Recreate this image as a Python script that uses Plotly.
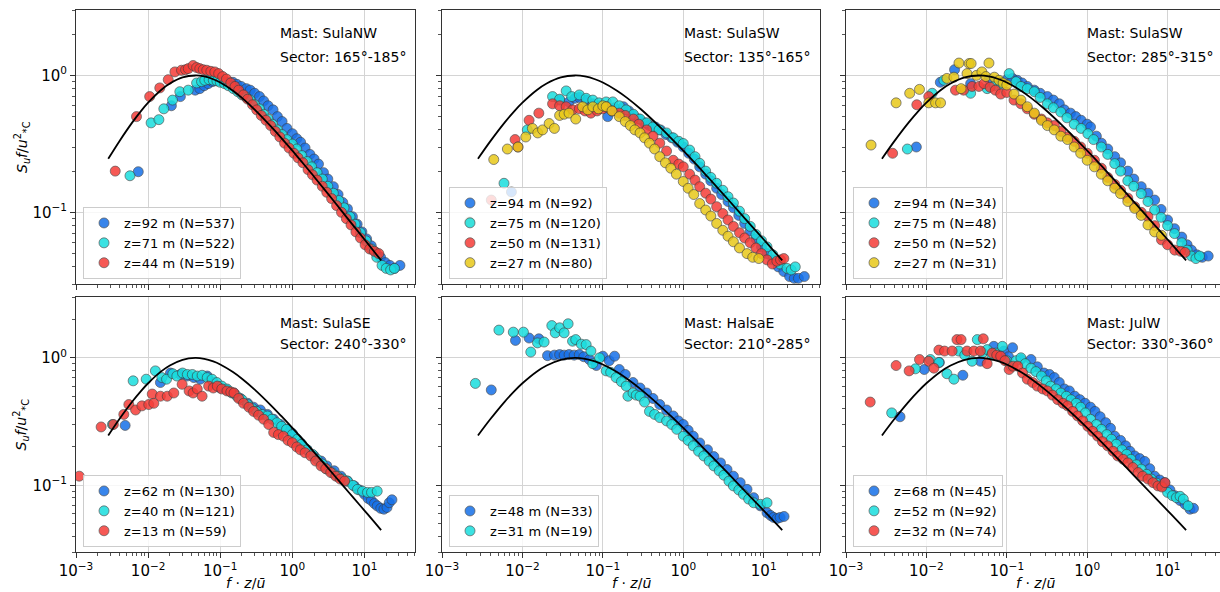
import plotly.graph_objects as go

# ---------------- model curve ----------------
model_x = [0.0028, 0.004, 0.006, 0.008, 0.01, 0.015, 0.02, 0.03, 0.045, 0.06, 0.08, 0.1, 0.15, 0.2,
           0.3, 0.5, 0.7, 1.0, 1.5, 2.0, 3.0, 5.0, 7.0, 10.0, 14.0, 17.0]
model_y = [0.246, 0.331, 0.452, 0.551, 0.632, 0.779, 0.871, 0.965, 0.998, 0.982, 0.937, 0.887, 0.773, 0.685,
           0.563, 0.426, 0.350, 0.282, 0.219, 0.182, 0.140, 0.100, 0.080, 0.0634, 0.0507, 0.0446]

# ---------------- Panel 1: SulaNW ----------------
nw92_x = [0.0073, 0.021, 0.028, 0.045, 0.052, 0.060, 0.068, 0.078, 0.089, 0.10, 0.115, 0.13, 0.15, 0.17, 0.195,
          0.23, 0.26, 0.30, 0.35, 0.40, 0.46, 0.54, 0.62, 0.72, 0.84, 1.0, 1.15, 1.3, 1.5, 1.75, 2.0, 2.3, 2.7,
          3.1, 3.7, 4.3, 5.0, 5.8, 6.8, 7.9, 9.2, 10.7, 12.4, 14.4, 16.7, 19.4, 22.5, 26, 31]
nw92_y = [0.198, 0.60, 0.70, 0.78, 0.80, 0.84, 0.87, 0.90, 0.92, 0.91, 0.90, 0.89, 0.89, 0.86, 0.83,
          0.80, 0.78, 0.74, 0.70, 0.65, 0.60, 0.56, 0.50, 0.46, 0.41, 0.375, 0.345, 0.325, 0.295, 0.265, 0.245,
          0.225, 0.195, 0.175, 0.154, 0.135, 0.118, 0.106, 0.093, 0.082, 0.072, 0.064, 0.057, 0.051, 0.047,
          0.043, 0.041, 0.039, 0.041]
nw71_x = [0.0056, 0.011, 0.0141, 0.0165, 0.0218, 0.0275, 0.036, 0.047, 0.055, 0.061, 0.070, 0.080, 0.09, 0.10,
          0.115, 0.13, 0.152, 0.175, 0.2, 0.23, 0.26, 0.30, 0.35, 0.40, 0.46, 0.53, 0.62, 0.72, 0.84, 1.0, 1.15,
          1.35, 1.6, 1.85, 2.2, 2.6, 3.1, 3.7, 4.4, 5.2, 6.3, 7.4, 8.8, 10.5, 12.5, 14.8, 17.5, 20, 23, 26]
nw71_y = [0.185, 0.45, 0.475, 0.57, 0.66, 0.76, 0.78, 0.88, 0.90, 0.92, 0.93, 0.92, 0.91, 0.89,
          0.87, 0.84, 0.80, 0.76, 0.72, 0.69, 0.66, 0.61, 0.57, 0.52, 0.48, 0.44, 0.40, 0.37, 0.34, 0.315, 0.29,
          0.26, 0.235, 0.215, 0.195, 0.175, 0.155, 0.138, 0.122, 0.108, 0.093, 0.082, 0.071, 0.062, 0.054,
          0.047, 0.041, 0.039, 0.038, 0.039]
nw44_x = [0.0035, 0.0069, 0.0105, 0.0145, 0.019, 0.0235, 0.029, 0.033, 0.036, 0.042, 0.047, 0.052, 0.058, 0.065,
          0.074, 0.084, 0.095, 0.108, 0.122, 0.14, 0.16, 0.18, 0.21, 0.24, 0.28, 0.32, 0.37, 0.43, 0.5, 0.58,
          0.67, 0.78, 0.9, 1.05, 1.2, 1.4, 1.65, 1.9, 2.2, 2.6, 3.0, 3.5, 4.1, 4.8, 5.6, 6.5, 7.6, 8.8, 10.2,
          11.8, 13.7, 15.8]
nw44_y = [0.20, 0.50, 0.70, 0.81, 0.93, 1.06, 1.09, 1.10, 1.12, 1.18, 1.14, 1.12, 1.10, 1.09,
          1.07, 1.06, 1.03, 0.98, 0.94, 0.88, 0.83, 0.78, 0.72, 0.67, 0.61, 0.56, 0.51, 0.47, 0.43, 0.39,
          0.355, 0.32, 0.295, 0.27, 0.25, 0.23, 0.205, 0.188, 0.172, 0.155, 0.14, 0.126, 0.112, 0.100, 0.090,
          0.081, 0.072, 0.065, 0.058, 0.054, 0.052, 0.050]

# ---------------- Panel 2: SulaSW 135-165 ----------------
sa94_x = [0.0073, 0.029, 0.038, 0.045, 0.051, 0.062, 0.075, 0.09, 0.115, 0.14, 0.18, 0.21, 0.24, 0.28, 0.33,
          0.38, 0.45, 0.52, 0.61, 0.72, 0.85, 1.0, 1.17, 1.37, 1.6, 1.9, 2.2, 2.6, 3.0, 3.6, 4.2, 4.9, 5.8, 6.8,
          8.0, 9.4, 11, 13, 15.2, 17.8, 21, 24, 27, 32]
sa94_y = [0.141, 0.66, 0.64, 0.68, 0.69, 0.66, 0.62, 0.60, 0.50, 0.58, 0.59, 0.55, 0.51, 0.48, 0.45,
          0.43, 0.42, 0.40, 0.37, 0.35, 0.325, 0.30, 0.27, 0.245, 0.215, 0.19, 0.17, 0.15, 0.135, 0.12, 0.108,
          0.095, 0.083, 0.073, 0.064, 0.056, 0.050, 0.045, 0.040, 0.037, 0.034, 0.033, 0.033, 0.034]
sa75_x = [0.0059, 0.0115, 0.0237, 0.029, 0.035, 0.041, 0.051, 0.062, 0.075, 0.09, 0.11, 0.133, 0.16, 0.195,
          0.24, 0.29, 0.35, 0.42, 0.5, 0.62, 0.75, 0.88, 1.0, 1.2, 1.4, 1.6, 1.9, 2.2, 2.6, 3.1, 3.6, 4.2, 5.0,
          5.8, 6.8, 8.0, 9.4, 11, 13, 16, 19.5, 22, 24.7]
sa75_y = [0.163, 0.40, 0.70, 0.67, 0.77, 0.70, 0.72, 0.68, 0.66, 0.63, 0.64, 0.64, 0.60, 0.56,
          0.52, 0.48, 0.45, 0.42, 0.40, 0.38, 0.35, 0.33, 0.318, 0.285, 0.255, 0.228, 0.20, 0.18, 0.163, 0.145,
          0.13, 0.117, 0.102, 0.09, 0.079, 0.069, 0.062, 0.056, 0.049, 0.042, 0.039, 0.038, 0.040]
sa50_x = [0.0041, 0.0081, 0.0088, 0.0121, 0.016, 0.0237, 0.029, 0.035, 0.042, 0.051, 0.06, 0.071, 0.085, 0.10,
          0.11, 0.13, 0.16, 0.19, 0.24, 0.28, 0.35, 0.42, 0.51, 0.62, 0.75, 0.88, 1.0, 1.2, 1.4, 1.6, 1.9, 2.2,
          2.6, 3.1, 3.6, 4.2, 5.0, 5.8, 6.8, 8.0, 9.4, 11, 12.8, 14.6, 16.2, 17.8]
sa50_y = [0.123, 0.34, 0.30, 0.47, 0.53, 0.62, 0.60, 0.59, 0.56, 0.57, 0.55, 0.53, 0.55, 0.57,
          0.59, 0.55, 0.53, 0.51, 0.48, 0.44, 0.40, 0.36, 0.32, 0.28, 0.24, 0.225, 0.215, 0.19, 0.172, 0.154,
          0.138, 0.125, 0.11, 0.098, 0.088, 0.079, 0.071, 0.065, 0.060, 0.055, 0.050, 0.045, 0.042, 0.044,
          0.045, 0.046]
sa27_x = [0.0022, 0.0044, 0.0065, 0.0088, 0.011, 0.0133, 0.0155, 0.0178, 0.0215, 0.025, 0.029, 0.033, 0.038,
          0.046, 0.056, 0.065, 0.075, 0.088, 0.10, 0.11, 0.13, 0.16, 0.19, 0.22, 0.25, 0.29, 0.33, 0.38, 0.44,
          0.51, 0.6, 0.7, 0.82, 1.0, 1.15, 1.35, 1.6, 1.9, 2.2, 2.6, 3.1, 3.6, 4.2, 5.0, 6.2, 7.3, 8.7]
sa27_y = [0.085, 0.243, 0.29, 0.30, 0.355, 0.41, 0.38, 0.40, 0.445, 0.41, 0.51, 0.52, 0.53,
          0.48, 0.59, 0.56, 0.59, 0.57, 0.60, 0.59, 0.55, 0.50, 0.46, 0.43, 0.40, 0.38, 0.35, 0.32, 0.29,
          0.255, 0.23, 0.21, 0.19, 0.168, 0.15, 0.135, 0.116, 0.104, 0.094, 0.083, 0.074, 0.067, 0.061, 0.055,
          0.050, 0.047, 0.046]

# ---------------- Panel 3: SulaSW 285-315 ----------------
sb94_x = [0.0075, 0.0149, 0.0224, 0.0355, 0.06, 0.084, 0.1, 0.118, 0.135, 0.155, 0.18, 0.22, 0.26, 0.32, 0.38,
          0.45, 0.52, 0.62, 0.72, 0.84, 1.0, 1.1, 1.3, 1.5, 1.8, 2.2, 2.6, 3.2, 3.8, 4.7, 5.7, 6.9, 8.3, 10,
          12.2, 15, 17.5, 19.8, 23, 27, 32]
sb94_y = [0.30, 0.89, 1.10, 0.87, 0.94, 0.89, 0.93, 0.95, 0.92, 0.88, 0.83, 0.78, 0.74, 0.70, 0.66,
          0.62, 0.56, 0.53, 0.50, 0.47, 0.44, 0.42, 0.36, 0.32, 0.29, 0.255, 0.23, 0.20, 0.175, 0.154, 0.138,
          0.123, 0.105, 0.088, 0.076, 0.066, 0.058, 0.053, 0.049, 0.047, 0.048]
sb75_x = [0.0058, 0.0118, 0.0165, 0.0355, 0.057, 0.07, 0.084, 0.107, 0.13, 0.15, 0.18, 0.22, 0.26, 0.32, 0.38,
          0.47, 0.56, 0.69, 0.84, 1.02, 1.2, 1.5, 1.8, 2.2, 2.6, 3.2, 3.8, 4.7, 5.7, 6.9, 8.3, 10, 12.2, 15,
          17.5, 19.8, 22.5, 25]
sb75_y = [0.29, 0.74, 0.92, 0.74, 0.80, 0.84, 0.87, 1.03, 0.90, 0.83, 0.80, 0.76, 0.69, 0.62, 0.58,
          0.54, 0.49, 0.44, 0.41, 0.375, 0.34, 0.30, 0.265, 0.227, 0.20, 0.17, 0.155, 0.137, 0.12, 0.104,
          0.092, 0.08, 0.07, 0.060, 0.053, 0.048, 0.046, 0.048]
sb50_x = [0.0038, 0.0076, 0.0107, 0.023, 0.029, 0.037, 0.045, 0.052, 0.062, 0.072, 0.084, 0.10, 0.123, 0.15,
          0.18, 0.22, 0.27, 0.32, 0.39, 0.47, 0.57, 0.69, 0.83, 1.0, 1.23, 1.5, 1.8, 2.2, 2.6, 3.2, 3.9, 4.7,
          5.7, 6.9, 8.4, 10, 12.3, 14.5, 16.5]
sb50_y = [0.27, 0.61, 0.70, 0.78, 0.78, 0.83, 0.83, 0.87, 0.82, 0.78, 0.73, 0.75, 0.66, 0.62,
          0.57, 0.52, 0.48, 0.45, 0.43, 0.39, 0.355, 0.33, 0.30, 0.27, 0.24, 0.21, 0.18, 0.16, 0.145, 0.127,
          0.11, 0.10, 0.093, 0.080, 0.063, 0.058, 0.053, 0.052, 0.051]
sb27_x = [0.00205, 0.0042, 0.0062, 0.0082, 0.0107, 0.013, 0.015, 0.018, 0.022, 0.0254, 0.027, 0.032, 0.034,
          0.036, 0.042, 0.049, 0.055, 0.06, 0.07, 0.08, 0.09, 0.10, 0.123, 0.15, 0.18, 0.22, 0.27, 0.32, 0.39,
          0.47, 0.57, 0.69, 0.83, 1.0, 1.23, 1.5, 1.8, 2.2, 2.6, 3.2, 3.9, 4.7, 5.7, 6.9, 8.4]
sb27_y = [0.31, 0.63, 0.74, 0.79, 0.63, 0.63, 0.63, 0.95, 0.97, 1.23, 0.80, 1.03, 1.22,
          1.22, 1.0, 1.06, 0.98, 1.23, 0.97, 0.92, 0.88, 0.85, 0.73, 0.66, 0.59, 0.53, 0.47, 0.43, 0.40,
          0.36, 0.34, 0.30, 0.27, 0.24, 0.215, 0.19, 0.17, 0.15, 0.137, 0.12, 0.107, 0.095, 0.081, 0.072, 0.068]

# ---------------- Panel 4: SulaSE ----------------
se62_x = [0.0048, 0.0148, 0.0204, 0.028, 0.035, 0.043, 0.053, 0.066, 0.08, 0.10, 0.125, 0.155, 0.19, 0.24,
          0.29, 0.36, 0.45, 0.55, 0.68, 0.83, 1.0, 1.29, 1.6, 2.0, 2.5, 3.0, 3.8, 4.7, 5.8, 7.2, 8.5, 10, 11.2,
          12.4, 13.7, 15, 16.8, 18.6, 20.5, 22, 24]
se62_y = [0.295, 0.64, 0.76, 0.74, 0.72, 0.70, 0.68, 0.72, 0.64, 0.58, 0.56, 0.53, 0.48, 0.44,
          0.41, 0.39, 0.36, 0.33, 0.30, 0.275, 0.255, 0.216, 0.19, 0.17, 0.155, 0.142, 0.13, 0.118, 0.108,
          0.099, 0.092, 0.085, 0.079, 0.076, 0.072, 0.069, 0.066, 0.065, 0.067, 0.073, 0.077]
se40_x = [0.0032, 0.0062, 0.0094, 0.0126, 0.0155, 0.018, 0.022, 0.025, 0.03, 0.035, 0.041, 0.048, 0.056, 0.066,
          0.077, 0.09, 0.105, 0.124, 0.145, 0.17, 0.2, 0.24, 0.28, 0.32, 0.38, 0.45, 0.52, 0.61, 0.71, 0.83,
          1.0, 1.17, 1.35, 1.6, 1.9, 2.2, 2.6, 3.0, 3.6, 4.2, 5.0, 5.8, 6.9, 8.0, 9.4, 11, 12.5, 15]
se40_y = [0.30, 0.66, 0.68, 0.79, 0.70, 0.68, 0.75, 0.72, 0.76, 0.74, 0.74, 0.72, 0.73, 0.70,
          0.68, 0.64, 0.60, 0.57, 0.53, 0.50, 0.47, 0.43, 0.40, 0.38, 0.36, 0.35, 0.33, 0.31, 0.29, 0.275,
          0.25, 0.23, 0.21, 0.19, 0.175, 0.16, 0.147, 0.134, 0.125, 0.118, 0.112, 0.108, 0.1, 0.093, 0.09,
          0.088, 0.088, 0.090]
se13_x = [0.00111, 0.00223, 0.0033, 0.0046, 0.0054, 0.0067, 0.0082, 0.0102, 0.0114, 0.012, 0.0148, 0.0184,
          0.0227, 0.0296, 0.037, 0.042, 0.048, 0.056, 0.069, 0.08, 0.091, 0.105, 0.124, 0.14, 0.155, 0.18,
          0.21, 0.25, 0.29, 0.34, 0.40, 0.47, 0.55, 0.64, 0.75, 0.87, 1.0, 1.15, 1.29, 1.5, 1.8, 2.1, 2.5, 2.9,
          3.4, 4.0, 4.6, 5.3]
se13_y = [0.118, 0.287, 0.30, 0.36, 0.43, 0.39, 0.42, 0.43, 0.52, 0.44, 0.50, 0.50,
          0.53, 0.62, 0.55, 0.53, 0.57, 0.50, 0.60, 0.58, 0.60, 0.57, 0.55, 0.54, 0.53, 0.48,
          0.44, 0.41, 0.38, 0.355, 0.33, 0.30, 0.26, 0.25, 0.243, 0.225, 0.216, 0.20, 0.19, 0.18, 0.17, 0.155,
          0.142, 0.135, 0.126, 0.118, 0.112, 0.108]

# ---------------- Panel 5: HalsaE ----------------
he48_x = [0.0041, 0.0082, 0.0121, 0.016, 0.0205, 0.025, 0.029, 0.033, 0.038, 0.044, 0.051, 0.058, 0.068, 0.083,
          0.1, 0.12, 0.14, 0.16, 0.19, 0.237, 0.29, 0.35, 0.42, 0.51, 0.62, 0.75, 0.87, 1.0, 1.15, 1.33, 1.6,
          2.0, 2.4, 2.9, 3.5, 4.2, 5.1, 6.2, 7.5, 9.1, 11, 12.2, 13.3, 14.7, 16, 17.9]
he48_y = [0.56, 1.37, 1.43, 1.41, 1.04, 1.05, 1.06, 1.05, 1.06, 1.05, 1.06, 1.02, 0.97, 0.87,
          1.03, 0.95, 1.03, 0.81, 0.74, 0.64, 0.58, 0.53, 0.48, 0.43, 0.39, 0.35, 0.32, 0.30, 0.27, 0.243,
          0.215, 0.19, 0.168, 0.15, 0.133, 0.118, 0.105, 0.093, 0.08, 0.069, 0.061, 0.058, 0.056, 0.055,
          0.056, 0.057]
he31_x = [0.0026, 0.0051, 0.0077, 0.0103, 0.0127, 0.0154, 0.0186, 0.0232, 0.0256, 0.029, 0.033, 0.037, 0.042,
          0.046, 0.054, 0.062, 0.071, 0.075, 0.091, 0.11, 0.125, 0.146, 0.17, 0.195, 0.205, 0.237, 0.26, 0.29,
          0.33, 0.38, 0.44, 0.51, 0.62, 0.72, 0.83, 1.0, 1.15, 1.33, 1.55, 1.8, 2.1, 2.4, 2.8, 3.2, 3.7, 4.2,
          4.9, 5.6, 6.5, 7.5, 9.1, 11]
he31_y = [0.63, 1.65, 1.59, 1.59, 1.11, 1.31, 1.33, 1.79, 1.57, 1.72, 1.57, 1.85, 1.35,
          1.39, 1.28, 1.27, 1.13, 0.90, 1.0, 0.79, 0.77, 0.70, 0.65, 0.60, 0.50, 0.53, 0.51, 0.50,
          0.45, 0.38, 0.36, 0.34, 0.32, 0.30, 0.275, 0.243, 0.225, 0.204, 0.185, 0.17, 0.155, 0.142, 0.13,
          0.12, 0.108, 0.099, 0.092, 0.085, 0.078, 0.073, 0.071, 0.073]

# ---------------- Panel 6: JulW ----------------
jw68_x = [0.0047, 0.0094, 0.0145, 0.0284, 0.047, 0.069, 0.08, 0.092, 0.105, 0.118, 0.15, 0.2, 0.24, 0.29,
          0.34, 0.39, 0.45, 0.52, 0.6, 0.7, 0.81, 0.94, 1.1, 1.25, 1.45, 1.7, 1.95, 2.2, 2.6, 3.0, 3.4, 3.9,
          4.5, 5.2, 6.0, 6.9, 8.0, 9.2, 10.7, 12.3, 14.3, 16.5, 19, 21]
jw68_y = [0.345, 0.81, 0.92, 0.73, 0.94, 1.23, 1.05, 1.13, 1.02, 1.2, 0.97, 0.97, 0.85, 0.76,
          0.74, 0.70, 0.64, 0.57, 0.55, 0.50, 0.47, 0.44, 0.41, 0.38, 0.345, 0.31, 0.28, 0.243, 0.225, 0.204,
          0.185, 0.17, 0.162, 0.154, 0.135, 0.118, 0.11, 0.105, 0.092, 0.083, 0.076, 0.071, 0.065, 0.066]
jw52_x = [0.0037, 0.0073, 0.0112, 0.0143, 0.018, 0.022, 0.0253, 0.03, 0.037, 0.043, 0.05, 0.057, 0.065, 0.073,
          0.088, 0.1, 0.112, 0.13, 0.15, 0.17, 0.2, 0.23, 0.27, 0.31, 0.35, 0.41, 0.47, 0.55, 0.63, 0.73, 0.83,
          0.95, 1.1, 1.3, 1.5, 1.75, 2.0, 2.3, 2.7, 3.1, 3.5, 4.1, 4.7, 5.5, 6.3, 7.3, 8.4, 10, 11.5, 12.9,
          14.3, 15.7, 18]
jw52_y = [0.37, 0.82, 0.97, 0.92, 0.75, 0.68, 1.13, 1.05, 0.94, 1.39, 1.10, 1.16, 1.05, 1.09,
          1.23, 0.95, 0.86, 0.95, 1.0, 0.90, 0.83, 0.78, 0.72, 0.66, 0.60, 0.57, 0.53, 0.50, 0.47, 0.44, 0.41,
          0.37, 0.33, 0.30, 0.275, 0.25, 0.23, 0.21, 0.19, 0.175, 0.16, 0.145, 0.134, 0.122, 0.112, 0.104,
          0.099, 0.088, 0.083, 0.08, 0.082, 0.078, 0.069]
jw32_x = [0.002, 0.0042, 0.0061, 0.0082, 0.0107, 0.0124, 0.0143, 0.0168, 0.0209, 0.024, 0.027, 0.032, 0.039,
          0.047, 0.051, 0.057, 0.066, 0.075, 0.084, 0.095, 0.107, 0.12, 0.137, 0.157, 0.18, 0.21, 0.24, 0.28,
          0.32, 0.37, 0.43, 0.5, 0.57, 0.66, 0.76, 0.88, 1.02, 1.17, 1.35, 1.55, 1.8, 2.1, 2.4, 2.8, 3.2, 3.7,
          4.3, 4.9, 5.7, 6.6, 7.6, 8.5, 9.3]
jw32_y = [0.45, 0.87, 0.79, 0.97, 0.94, 0.83, 1.15, 1.13, 1.13, 1.39, 1.39, 1.13, 1.13,
          1.13, 1.41, 0.90, 1.09, 1.05, 1.03, 0.95, 0.81, 0.86, 0.86, 0.76, 0.68, 0.64, 0.60, 0.57,
          0.55, 0.51, 0.47, 0.44, 0.42, 0.38, 0.35, 0.32, 0.29, 0.265, 0.243, 0.22, 0.204, 0.185, 0.17, 0.16,
          0.15, 0.138, 0.126, 0.118, 0.112, 0.105, 0.099, 0.097, 0.105]

# ---------------- labels ----------------
mast_labels = ["Mast: SulaNW", "Mast: SulaSW", "Mast: SulaSW", "Mast: SulaSE", "Mast: HalsaE", "Mast: JulW"]
sector_labels = ["Sector: 165°-185°", "Sector: 135°-165°", "Sector: 285°-315°",
                 "Sector: 240°-330°", "Sector: 210°-285°", "Sector: 330°-360°"]
x_tick_vals = [1e-3, 1e-2, 1e-1, 1e0, 1e1]
x_tick_text = ["10<sup>−3</sup>", "10<sup>−2</sup>", "10<sup>−1</sup>", "10<sup>0</sup>", "10<sup>1</sup>"]
y_tick_vals = [1e-1, 1e0]
y_tick_text = ["10<sup>−1</sup>", "10<sup>0</sup>"]

BLUE, CYAN, RED, YEL = "#1670e8", "#19dede", "#f53d38", "#e8c81a"

panels = [
    [("z=92 m (N=537)", nw92_x, nw92_y, BLUE), ("z=71 m (N=522)", nw71_x, nw71_y, CYAN),
     ("z=44 m (N=519)", nw44_x, nw44_y, RED)],
    [("z=94 m (N=92)", sa94_x, sa94_y, BLUE), ("z=75 m (N=120)", sa75_x, sa75_y, CYAN),
     ("z=50 m (N=131)", sa50_x, sa50_y, RED), ("z=27 m (N=80)", sa27_x, sa27_y, YEL)],
    [("z=94 m (N=34)", sb94_x, sb94_y, BLUE), ("z=75 m (N=48)", sb75_x, sb75_y, CYAN),
     ("z=50 m (N=52)", sb50_x, sb50_y, RED), ("z=27 m (N=31)", sb27_x, sb27_y, YEL)],
    [("z=62 m (N=130)", se62_x, se62_y, BLUE), ("z=40 m (N=121)", se40_x, se40_y, CYAN),
     ("z=13 m (N=59)", se13_x, se13_y, RED)],
    [("z=48 m (N=33)", he48_x, he48_y, BLUE), ("z=31 m (N=19)", he31_x, he31_y, CYAN)],
    [("z=68 m (N=45)", jw68_x, jw68_y, BLUE), ("z=52 m (N=92)", jw52_x, jw52_y, CYAN),
     ("z=32 m (N=74)", jw32_x, jw32_y, RED)],
]

W, H = 1220, 592
FONT = "DejaVu Sans"
# panel boxes in pixels: (left, right, top, bottom)
boxes = [(76, 415, 10, 284), (442, 820, 10, 284), (846, 1220, 10, 284),
         (76, 415, 297, 552), (442, 820, 297, 552), (846, 1220, 297, 552)]
xranges = [[-3, 1.70], [-3, 1.70], [-3, 1.652], [-3, 1.70], [-3, 1.70], [-3, 1.652]]
yrange = [-1.5229, 0.4771]

minor_x = [m * 10 ** e for e in range(-3, 2) for m in range(2, 10)]
minor_y = [m * 10 ** e for e in range(-2, 1) for m in range(2, 10)]

fig = go.Figure()
annotations = []
layout = {}
for i, (series, box) in enumerate(zip(panels, boxes)):
    n = i + 1
    xa = "x" if n == 1 else f"x{n}"
    ya = "y" if n == 1 else f"y{n}"
    lg = "legend" if n == 1 else f"legend{n}"
    for name, xs, ys, col in series:
        fig.add_trace(go.Scatter(
            x=xs, y=ys, mode="markers", name=name, xaxis=xa, yaxis=ya, legend=lg,
            marker=dict(size=10, color=col, opacity=0.85, line=dict(color="#3c3c3c", width=0.7)),
        ))
    fig.add_trace(go.Scatter(x=model_x, y=model_y, mode="lines", xaxis=xa, yaxis=ya, showlegend=False,
                             line=dict(color="black", width=1.8, shape="spline", smoothing=1.0)))
    l, r, t, b = box
    row = 0 if n <= 3 else 1
    col_i = (n - 1) % 3
    layout["xaxis" if n == 1 else f"xaxis{n}"] = dict(
        type="log", range=xranges[i], domain=[l / W, r / W], anchor=ya, automargin=False,
        tickmode="array", tickvals=x_tick_vals, ticktext=x_tick_text,
        showticklabels=(row == 1), ticks="outside", ticklen=5, tickwidth=1, tickcolor="#333",
        showgrid=True, gridcolor="#d4d4d4", gridwidth=1, zeroline=False,
        showline=True, linecolor="#333", linewidth=1, mirror=True,
        tickfont=dict(family=FONT, size=15, color="black"),
        minor=dict(tickmode="array", tickvals=minor_x, ticks="outside", ticklen=3, tickwidth=1,
                   tickcolor="#555", showgrid=False),
    )
    layout["yaxis" if n == 1 else f"yaxis{n}"] = dict(
        type="log", range=yrange, domain=[(H - b) / H, (H - t) / H], anchor=xa, automargin=False,
        tickmode="array", tickvals=y_tick_vals, ticktext=y_tick_text,
        showticklabels=(col_i == 0), ticks="outside", ticklen=5, tickwidth=1, tickcolor="#333",
        showgrid=True, gridcolor="#d4d4d4", gridwidth=1, zeroline=False,
        showline=True, linecolor="#333", linewidth=1, mirror=True,
        tickfont=dict(family=FONT, size=15, color="black"),
        minor=dict(tickmode="array", tickvals=minor_y, ticks="outside", ticklen=3, tickwidth=1,
                   tickcolor="#555", showgrid=False),
    )
    layout[lg] = dict(
        x=(l + 7) / W, y=(H - (b - 5)) / H, xanchor="left", yanchor="bottom",
        bgcolor="rgba(255,255,255,0.8)", bordercolor="#cccccc", borderwidth=1,
        font=dict(family=FONT, size=13, color="black"), itemwidth=30, tracegroupgap=0,
    )
    # Mast / Sector annotations
    tx = [278, 682, 1085][col_i]
    my, sy = (33, 57) if row == 0 else (323, 344)
    for txt, yy in ((mast_labels[i], my), (sector_labels[i], sy)):
        annotations.append(dict(text=txt, x=tx / W, y=(H - yy) / H, xref="paper", yref="paper",
                                xanchor="left", yanchor="middle", showarrow=False,
                                font=dict(family=FONT, size=14, color="black")))
    if row == 1:
        annotations.append(dict(text="<i>f</i> · <i>z</i>/<i>ū</i>", x=((l + r) / 2) / W if n != 6 else 1035 / W,
                                y=(H - 583) / H, xref="paper", yref="paper", xanchor="center",
                                yanchor="middle", showarrow=False,
                                font=dict(family=FONT, size=14, color="black")))
    if col_i == 0:
        annotations.append(dict(text="<i>S<sub>u</sub>f</i>/<i>u</i><sup>2</sup><sub>*C</sub>", x=22 / W,
                                y=(H - (t + b) / 2) / H, xref="paper", yref="paper", xanchor="center",
                                yanchor="middle", textangle=-90, showarrow=False,
                                font=dict(family=FONT, size=14, color="black")))

fig.update_layout(
    width=W, height=H, margin=dict(l=0, r=0, t=0, b=0, autoexpand=False),
    paper_bgcolor="white", plot_bgcolor="white",
    annotations=annotations, font=dict(family=FONT, color="black"),
    **layout,
)
fig.write_html("out.html")
